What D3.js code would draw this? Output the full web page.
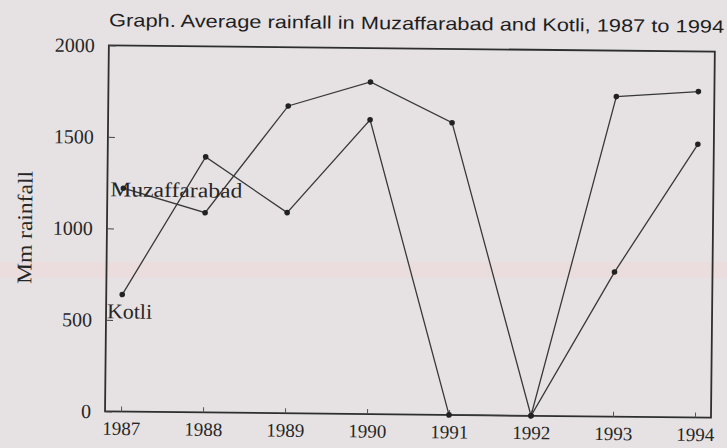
<!DOCTYPE html>
<meta charset="utf-8">
<script src="https://d3js.org/d3.v7.min.js"></script>
<style>
  body { margin: 0; background: #e6e2e4; }
  svg { display: block; }
</style>
<div id="chart"></div>
<script>
  // data
  var years = [1987, 1988, 1989, 1990, 1991, 1992, 1993, 1994];
  var muzaffarabad = [1220, 1091, 1679, 1815, 1597, 0, 1749, 1781];
  var kotli = [639, 1396, 1096, 1608, 0, 0, 790, 1493];
  var yTicks = [0, 500, 1000, 1500, 2000];

  var width = 727, height = 448;
  var plotLeft = 107, plotRight = 713, plotTop = 48, plotBottom = 414;
  var serif = "Liberation Serif, Times New Roman, serif";

  var svg = d3.select("#chart").append("svg")
    .attr("width", width)
    .attr("height", height);

  // faint pink band from the scan
  svg.append("rect")
    .attr("x", 0).attr("y", 262).attr("width", width).attr("height", 16)
    .attr("fill", "#eed9d9").attr("opacity", 0.6);

  // the page sits slightly tilted on the scanner
  var g = svg.append("g").attr("transform", "rotate(0.6,363,224)");

  var x = d3.scaleLinear().domain([1987, 1994]).range([123, 697]);
  var y = d3.scaleLinear().domain([0, 2000]).range([plotBottom, plotTop]);

  // frame
  g.append("rect")
    .attr("x", plotLeft).attr("y", plotTop)
    .attr("width", plotRight - plotLeft).attr("height", plotBottom - plotTop)
    .attr("fill", "none")
    .attr("stroke", "#2e2e2e")
    .attr("stroke-width", 1.8);

  // y axis ticks + labels
  var yAxis = d3.axisLeft(y).tickValues(yTicks).tickFormat(d3.format("d")).tickSize(-7).tickPadding(14);
  var gy = g.append("g").attr("transform", "translate(" + plotLeft + ",0)").call(yAxis);
  gy.select(".domain").remove();
  gy.selectAll("line").attr("stroke", "#444");
  gy.selectAll("text")
    .attr("font-family", serif)
    .attr("font-size", 20)
    .attr("fill", "#262626");

  // x axis ticks + labels
  var xAxis = d3.axisBottom(x).tickValues(years).tickFormat(d3.format("d")).tickSize(-5).tickPadding(10);
  var gx = g.append("g").attr("transform", "translate(0," + plotBottom + ")").call(xAxis);
  gx.select(".domain").remove();
  gx.selectAll("line").attr("stroke", "#555");
  gx.selectAll("text")
    .attr("font-family", serif)
    .attr("font-size", 19)
    .attr("fill", "#262626");

  var line = d3.line()
    .x(function (d, i) { return x(years[i]); })
    .y(function (d) { return y(d); });

  [muzaffarabad, kotli].forEach(function (series, k) {
    g.append("path")
      .datum(series)
      .attr("d", line)
      .attr("fill", "none")
      .attr("stroke", "#383838")
      .attr("stroke-width", 1.3);

    g.selectAll(".pt" + k)
      .data(series)
      .enter()
      .append("circle")
      .attr("cx", function (d, i) { return x(years[i]); })
      .attr("cy", function (d) { return y(d); })
      .attr("r", 2.8)
      .attr("fill", "#222");
  });

  // series labels
  g.append("text")
    .attr("x", 110).attr("y", 199)
    .attr("font-family", serif)
    .attr("font-size", 21)
    .attr("textLength", 132)
    .attr("lengthAdjust", "spacingAndGlyphs")
    .attr("fill", "#262626")
    .text("Muzaffarabad");

  g.append("text")
    .attr("x", 108).attr("y", 321)
    .attr("font-family", serif)
    .attr("font-size", 21)
    .attr("textLength", 45)
    .attr("lengthAdjust", "spacingAndGlyphs")
    .attr("fill", "#262626")
    .text("Kotli");

  // y title
  g.append("text")
    .attr("transform", "translate(32,231) rotate(-90)")
    .attr("text-anchor", "middle")
    .attr("font-family", serif)
    .attr("font-size", 21)
    .attr("textLength", 113)
    .attr("lengthAdjust", "spacingAndGlyphs")
    .attr("fill", "#262626")
    .text("Mm rainfall");

  // title
  g.append("text")
    .attr("x", 107).attr("y", 29)
    .attr("font-family", "Liberation Sans Narrow, Liberation Sans, Arial, sans-serif")
    .attr("font-size", 18)
    .attr("textLength", 615)
    .attr("lengthAdjust", "spacingAndGlyphs")
    .attr("fill", "#1e1e1e")
    .text("Graph. Average rainfall in Muzaffarabad and Kotli, 1987 to 1994");
</script>
